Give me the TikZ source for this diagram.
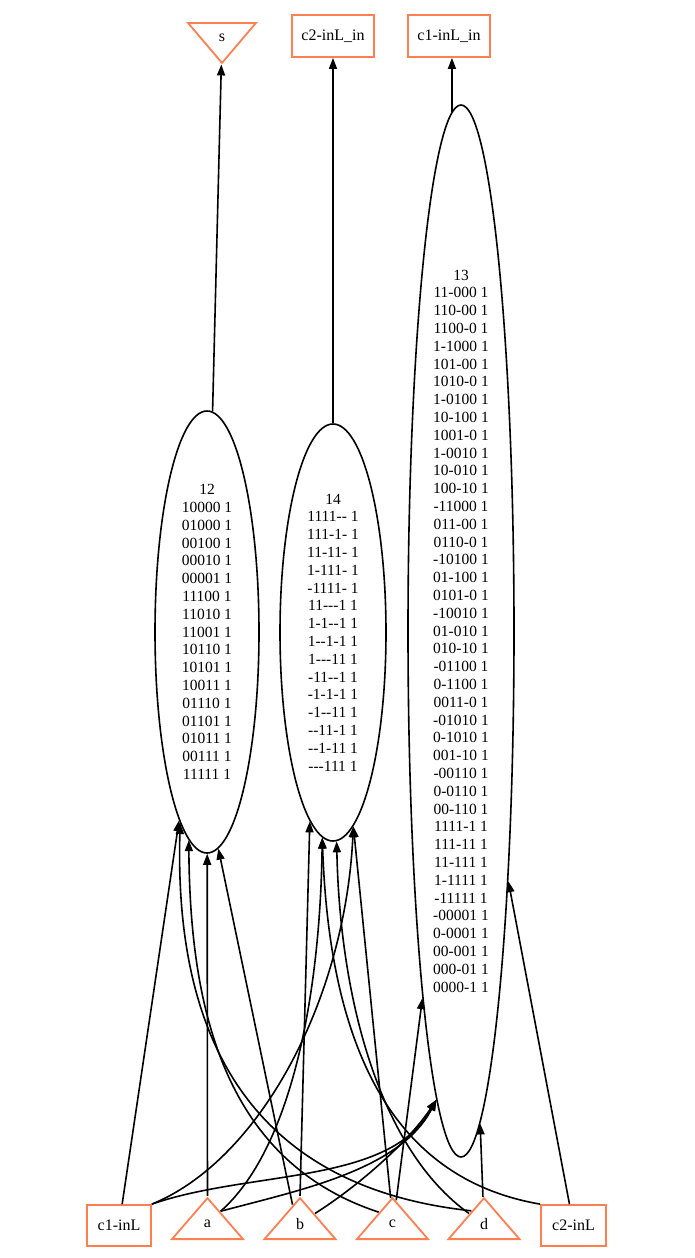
\documentclass[tikz,border=0pt]{standalone}
\usepackage{fontspec}
\setmainfont{Liberation Serif}[Ligatures=TeXOff]
\usetikzlibrary{arrows.meta,shapes.geometric,calc}
\definecolor{Coral}{HTML}{FF7F50}

\begin{document}
\begin{tikzpicture}[x=1pt,y=-1pt,
    port/.style={rectangle,draw=Coral,line width=1.8pt,minimum width=64pt,
      minimum height=41pt,inner sep=0pt,font=\fontsize{16}{18}\selectfont},
    pin/.style={isosceles triangle,isosceles triangle stretches,shape border rotate=90,
      draw=Coral,line width=1.8pt,minimum width=71pt,minimum height=41pt,inner sep=0pt,
      font=\fontsize{16}{18}\selectfont},
    cover/.style={ellipse,draw,line width=1.6pt,inner sep=0pt,align=center,
      font=\fontsize{15.5}{17.8}\selectfont},
    wire/.style={line width=1.6pt,-{Triangle[length=11pt,width=8pt]}}
  ]
    \useasboundingbox (0,0) rectangle (694,1258);
    % outputs
    \node[pin,shape border rotate=270,minimum width=68pt,minimum height=40pt,anchor=lower side]
      (s) at (222,22) {s};
    \node[port,minimum width=82pt,minimum height=42pt] (c2inLin) at (333,36) {c2-inL\_in};
    \node[port,minimum width=82pt,minimum height=42pt] (c1inLin) at (449,36) {c1-inL\_in};
    % covers
    \node[cover,minimum width=104pt,minimum height=442pt] (n12) at (207,632)
      {12\\10000 1\\01000 1\\00100 1\\00010 1\\00001 1\\11100 1\\11010 1\\11001 1\\
       10110 1\\10101 1\\10011 1\\01110 1\\01101 1\\01011 1\\00111 1\\11111 1};
    \node[cover,minimum width=106pt,minimum height=417pt] (n14) at (333,632.5)
      {14\\1111-- 1\\111-1- 1\\11-11- 1\\1-111- 1\\-1111- 1\\11---1 1\\1-1--1 1\\1--1-1 1\\
       1---11 1\\-11--1 1\\-1-1-1 1\\-1--11 1\\--11-1 1\\--1-11 1\\---111 1};
    \node[cover,minimum width=106pt,minimum height=1052pt] (n13) at (461,631)
      {13\\11-000 1\\110-00 1\\1100-0 1\\1-1000 1\\101-00 1\\1010-0 1\\1-0100 1\\10-100 1\\
       1001-0 1\\1-0010 1\\10-010 1\\100-10 1\\-11000 1\\011-00 1\\0110-0 1\\-10100 1\\
       01-100 1\\0101-0 1\\-10010 1\\01-010 1\\010-10 1\\-01100 1\\0-1100 1\\0011-0 1\\
       -01010 1\\0-1010 1\\001-10 1\\-00110 1\\0-0110 1\\00-110 1\\1111-1 1\\111-11 1\\
       11-111 1\\1-1111 1\\-11111 1\\-00001 1\\0-0001 1\\00-001 1\\000-01 1\\0000-1 1};
    % inputs
    \node[port] (c1inL) at (119,1225.5) {c1-inL};
    \foreach \n/\x in {a/207.5,b/300,c/392.5,d/484}
      \node[pin,anchor=lower side] (\n) at (\x,1240) {\n};
    \node[port,minimum width=65pt] (c2inL) at (573.5,1225.5) {c2-inL};
    % output wires
    \draw[wire] (n12) -- (s);
    \draw[wire] (n14) -- (c2inLin);
    \draw[wire] (n13.91.2) -- (n13.91.2 |- c1inLin.south);
    % into 12
    \draw[wire] (c1inL) -- (n12);
    \draw[wire] (a) -- (n12);
    \draw[wire] ($(b.apex)!0.2!(b.left corner)$) -- (n12.-87);
    \draw[wire] ($(c.apex)!0.37!(c.left corner)$) .. controls (220,1160) and (190,1000) .. (n12.-95);
    \draw[wire] ($(d.apex)!0.34!(d.left corner)$) .. controls (230,1185) and (175,1010) .. (n12.-98.5);
    % into 14
    \draw[wire] (c1inL.north east) .. controls (260,1160) and (345,1000) .. (n14.-84);
    \draw[wire] ($(a.apex)!0.35!(a.right corner)$) .. controls (290,1150) and (320,1000) .. (n14.-93);
    \draw[wire] (b.apex) -- (n14.-97);
    \draw[wire] ($(c.apex)!0.05!(c.left corner)$) -- (n14.-84);
    \draw[wire] ($(d.apex)!0.4!(d.left corner)$) .. controls (380,1150) and (340,1000) .. (n14.-89.5);
    \draw[wire] (c2inL.north west) .. controls (400,1180) and (330,1060) .. (n14.-93);
    % into 13
    \draw[wire] (c1inL.north east) .. controls (250,1170) and (390,1185) .. (n13.-93);
    \draw[wire] ($(a.apex)!0.35!(a.right corner)$) .. controls (300,1190) and (400,1170) .. (n13.-93);
    \draw[wire] ($(b.apex)!0.4!(b.right corner)$) .. controls (360,1185) and (410,1140) .. (n13.-93.55);
    \draw[wire] ($(c.apex)!0.1!(c.right corner)$) -- (n13.-96.3);
    \draw[wire] (d) -- (n13);
    \draw[wire] (c2inL) -- (n13);
\end{tikzpicture}
\end{document}
